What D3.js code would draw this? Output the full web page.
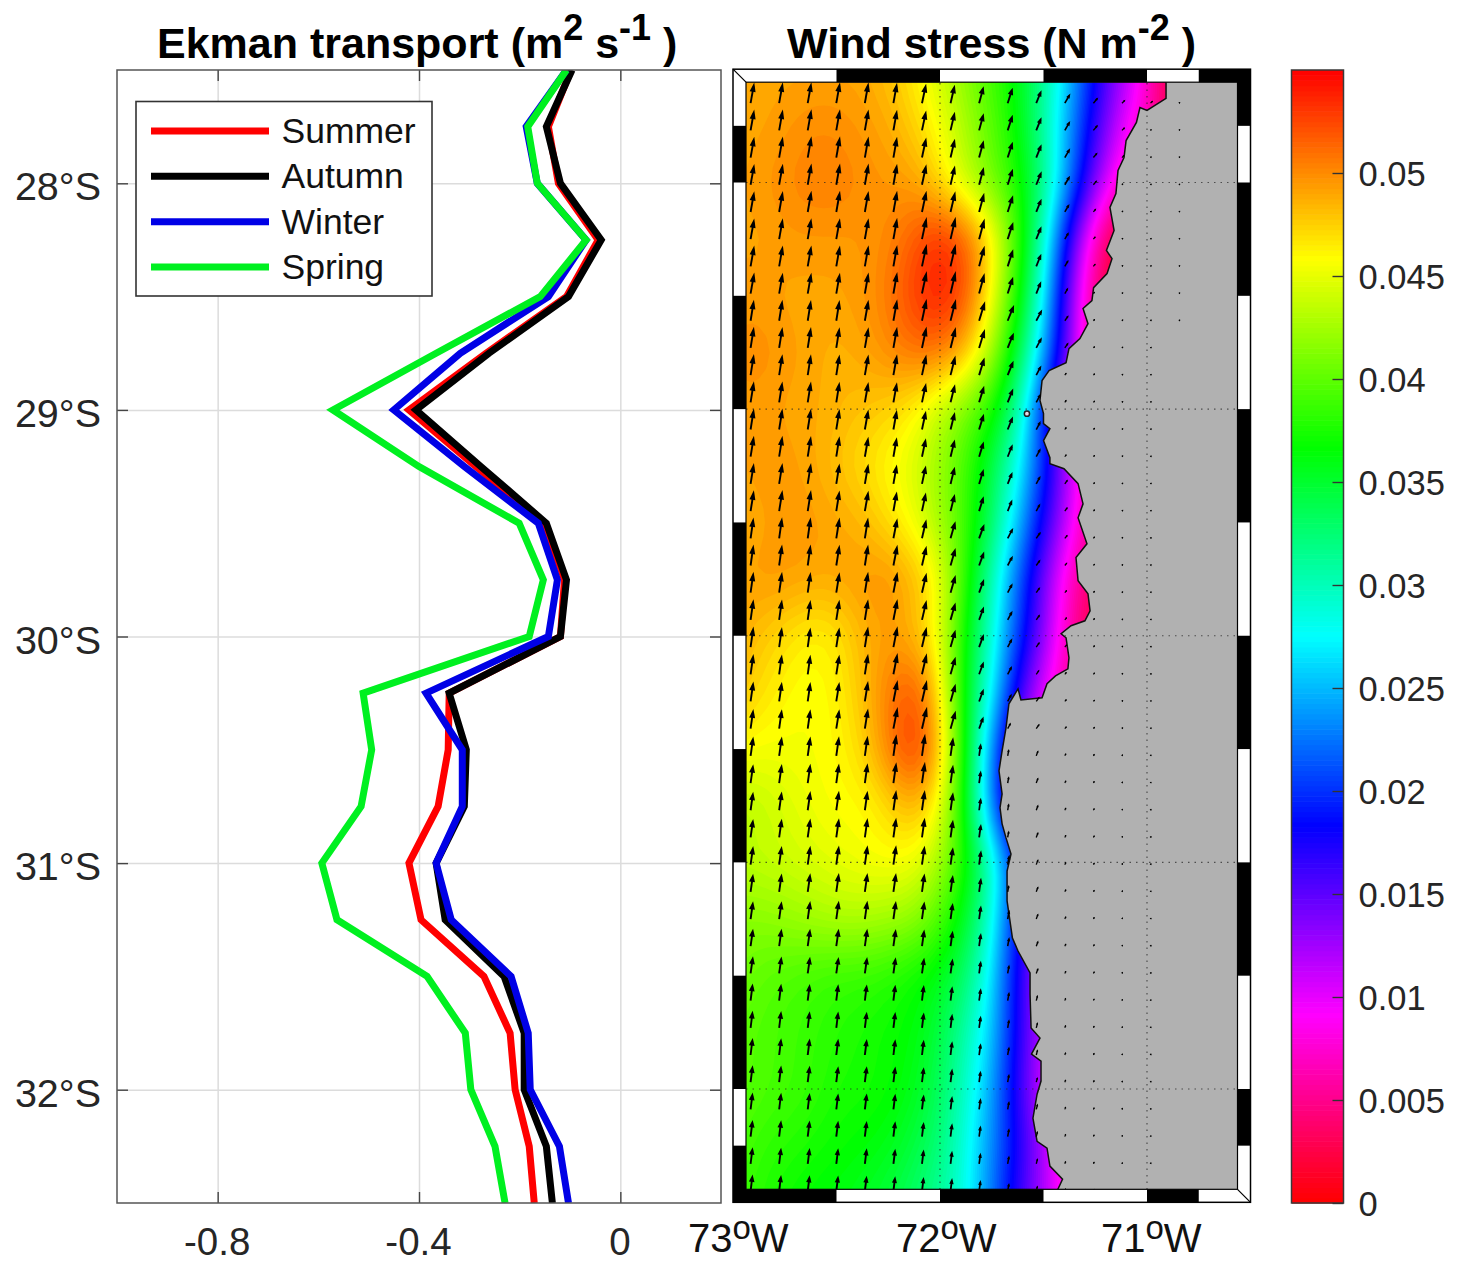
<!DOCTYPE html>
<html><head><meta charset="utf-8">
<script src="https://cdn.jsdelivr.net/npm/d3@7"></script>
<style>
html,body{margin:0;padding:0;background:#fff}
svg{display:block}
text{font-family:"Liberation Sans",Arial,sans-serif}
</style></head><body><svg id="c" width="1460" height="1274"></svg>
<script>
// ---------- Ekman transport panel ----------
const latitudes = [27.5,27.75,28,28.25,28.5,28.75,29,29.25,29.5,29.75,30,30.25,30.5,30.75,31,31.25,31.5,31.75,32,32.25,32.5];
const summer = [-.098,-.143,-.123,-.044,-.107,-.267,-.42,-.287,-.151,-.111,-.119,-.34,-.342,-.362,-.42,-.396,-.271,-.219,-.209,-.181,-.171];
const autumn = [-.096,-.147,-.119,-.038,-.103,-.261,-.406,-.277,-.147,-.107,-.119,-.34,-.306,-.31,-.366,-.348,-.231,-.191,-.191,-.147,-.135];
const winter = [-.107,-.187,-.165,-.068,-.143,-.318,-.45,-.31,-.163,-.125,-.143,-.386,-.314,-.314,-.366,-.336,-.217,-.183,-.179,-.121,-.103];
const spring = [-.107,-.184,-.165,-.068,-.159,-.366,-.571,-.4,-.201,-.153,-.181,-.511,-.494,-.515,-.593,-.563,-.384,-.308,-.297,-.249,-.229];
const seasonNames = ["Summer","Autumn","Winter","Spring"];
const seasonColors = ["#ff0000","#000000","#0000e6","#00f020"];
const xTicks = [-0.8,-0.4,0];
const xTickLabels = ["-0.8","-0.4","0"];
const latTicks = [28,29,30,31,32];
const latTickLabels = ["28°S","29°S","30°S","31°S","32°S"];

// ---------- Wind stress panel ----------
const fieldLons = [-73,-72.875,-72.75,-72.625,-72.5,-72.375,-72.25,-72.125,-72,-71.875,-71.75,-71.625,-71.5,-71.375,-71.25,-71.125,-71,-70.875];
const fieldLats = latitudes;
const stressRows = [
[.049,.049,.049,.049,.049,.049,.048,.0465,.044,.0414,.0389,.0363,.0314,.0257,.018,.0129,.008,.001],
[.049,.049,.0495,.05,.05,.0495,.049,.0475,.0456,.0427,.0398,.0368,.0309,.024,.0164,.0104,.0066,.002],
[.049,.0495,.05,.0505,.0505,.05,.0495,.0495,.047,.0438,.0408,.0378,.0322,.0231,.0134,.007,.004,0],
[.049,.049,.0495,.0495,.0495,.0495,.05,.0518,.054,.052,.047,.039,.0299,.0165,.006,0,0,0],
[.0495,.0495,.049,.049,.049,.0495,.0505,.053,.0545,.0525,.046,.0378,.0279,.0133,.004,0,0,0],
[.0495,.05,.0495,.049,.0485,.049,.05,.051,.051,.0485,.0429,.035,.0248,.013,.004,0,0,0],
[.0495,.0495,.049,.049,.0485,.048,.0475,.0463,.0436,.0408,.038,.0313,.0189,.01,.004,0,0,0],
[.049,.0495,.0495,.049,.048,.047,.0459,.0445,.042,.039,.0345,.0282,.0197,.0116,.005,0,0,0],
[.0485,.049,.0495,.0495,.049,.0485,.047,.0455,.0425,.039,.0333,.0253,.0175,.0103,.004,0,0,0],
[.049,.0495,.0495,.049,.049,.0495,.05,.0485,.046,.038,.0303,.0218,.0142,.0068,.003,0,0,0],
[.049,.048,.047,.046,.0465,.0485,.0495,.0485,.0455,.0365,.029,.0205,.0134,.0058,.002,0,0,0],
[.0485,.047,.046,.0455,.046,.048,.0505,.0528,.0475,.0355,.0278,.0166,.01,.005,.002,0,0,0],
[.046,.0455,.0455,.0455,.046,.047,.0505,.054,.049,.0365,.023,.012,.008,.004,.001,0,0,0],
[.043,.0435,.0445,.0453,.0458,.0458,.047,.049,.046,.0365,.022,.012,.008,.004,.001,0,0,0],
[.0435,.0437,.044,.0445,.045,.0455,.0458,.0455,.043,.0375,.03,.019,.012,.006,.002,0,0,0],
[.0415,.0415,.042,.0425,.043,.043,.0425,.042,.0395,.0355,.0288,.018,.012,.006,.002,0,0,0],
[.041,.04,.0395,.039,.0385,.0385,.038,.037,.036,.033,.027,.017,.0115,.006,.002,0,0,0],
[.04,.0395,.039,.0385,.038,.0375,.037,.0365,.0345,.0305,.026,.017,.0115,.007,.002,0,0,0],
[.04,.0395,.039,.0385,.0375,.0375,.037,.036,.0335,.0295,.0245,.0165,.0105,.007,.002,0,0,0],
[.0395,.0385,.038,.0375,.037,.0365,.036,.0345,.0325,.0285,.0235,.0175,.0125,.0065,.002,0,0,0],
[.039,.038,.037,.0365,.036,.0355,.0345,.033,.031,.0285,.0225,.0165,.012,.0075,.003,0,0,0]
];
const coastLon = [-70.908,-70.908,-71.0,-71.034,-71.051,-71.101,-71.111,-71.14,-71.15,-71.179,-71.159,-71.196,-71.169,-71.193,-71.258,-71.266,-71.309,-71.285,-71.324,-71.377,-71.391,-71.473,-71.507,-71.517,-71.5,-71.5,-71.469,-71.5,-71.469,-71.469,-71.401,-71.333,-71.309,-71.333,-71.29,-71.343,-71.333,-71.285,-71.275,-71.3,-71.367,-71.415,-71.391,-71.377,-71.382,-71.442,-71.483,-71.507,-71.609,-71.623,-71.667,-71.681,-71.7,-71.715,-71.7,-71.71,-71.7,-71.681,-71.657,-71.676,-71.676,-71.65,-71.623,-71.565,-71.565,-71.56,-71.517,-71.558,-71.512,-71.512,-71.531,-71.551,-71.531,-71.483,-71.469,-71.408,-71.435];
const coastLat = [27.558,27.629,27.682,27.669,27.735,27.815,27.89,27.947,28.049,28.11,28.212,28.3,28.336,28.402,28.464,28.521,28.556,28.623,28.689,28.733,28.795,28.83,28.874,28.962,29.02,29.064,29.086,29.139,29.214,29.241,29.263,29.329,29.418,29.479,29.594,29.655,29.757,29.815,29.89,29.934,29.956,29.991,30.009,30.097,30.146,30.177,30.212,30.274,30.283,30.234,30.3,30.406,30.508,30.596,30.698,30.759,30.83,30.892,30.963,31.038,31.17,31.334,31.391,31.488,31.581,31.731,31.775,31.846,31.877,31.965,32.023,32.129,32.231,32.261,32.34,32.398,32.451];
const windBandLats = [28,29,30,31,32];
const windDirBands = [
[10,10,10,10,10,10,12,13,15,18,22,30,40,45,45,45],
[9,9,9,9,10,10,12,14,17,22,28,35,45,45,45,45],
[8,8,8,9,9,11,13,16,20,28,35,40,40,40,40,40],
[8,8,8,8,8,8,8,8,8,10,20,25,30,30,30,30],
[7,7,7,7,7,7,7,7,8,10,15,20,25,25,25,25]
];
const landMarkLength = [7,7,7,7,7,7,7,7,7,7,6,3,2.4,1.8,1.6,1.6];
const mapLonTicks = [-73,-72,-71];
const mapLonLabels = ["73","72","71"];
const gridLons = [-72,-71];
const topBandEdges = [-73,-72.5,-72,-71.5,-71,-70.75,-70.5];
const sideBandEdges = [27.5,27.75,28,28.5,29,29.5,30,30.5,31,31.5,32,32.25,32.5];
const barTicks = [0,.005,.01,.015,.02,.025,.03,.035,.04,.045,.05];
const barTickLabels = ["0","0.005","0.01","0.015","0.02","0.025","0.03","0.035","0.04","0.045","0.05"];

const svg = d3.select("#c");
const defs = svg.append("defs");
const INK = "#262626";

function superText(sel, parts){
  let pending = 0;
  parts.forEach(p=>{
    const dy = (p.sup ? -p.rise : 0) + pending;
    const ts = sel.append("tspan").attr("dy",dy).text(p.sup||p.t);
    if(p.sup){ ts.attr("font-size",p.size); pending = p.rise; } else pending = 0;
  });
}

// ---- left panel ----
const xS = d3.scaleLinear([-1,0.2],[117,721]);
const yS = d3.scaleLinear([27.5,32.5],[70,1203]);
defs.append("clipPath").attr("id","lp").append("rect").attr("x",117).attr("y",70).attr("width",604).attr("height",1133);
const L = svg.append("g");

function cleanAxis(g){ g.select(".domain").remove(); }
L.append("g").attr("transform","translate(0,1203)")
  .call(d3.axisBottom(xS).tickValues(xTicks).tickSize(-1133).tickFormat(""))
  .call(cleanAxis).selectAll("line").attr("stroke","#dcdcdc").attr("stroke-width",1.5);
L.append("g").attr("transform","translate(117,0)")
  .call(d3.axisLeft(yS).tickValues(latTicks).tickSize(-604).tickFormat(""))
  .call(cleanAxis).selectAll("line").attr("stroke","#dcdcdc").attr("stroke-width",1.5);

const lineGen = d3.line().x(d=>xS(d[0])).y(d=>yS(d[1]));
[summer,autumn,winter,spring].forEach((s,i)=>{
  L.append("path").attr("clip-path","url(#lp)")
    .datum(s.map((v,k)=>[v,latitudes[k]]))
    .attr("d",lineGen).attr("fill","none").attr("stroke",seasonColors[i])
    .attr("stroke-width",7).attr("stroke-linejoin","miter");
});
const axisStyle = g=>{ g.call(cleanAxis); g.selectAll("line").attr("stroke","#444").attr("stroke-width",1.4); };
L.append("g").attr("transform","translate(0,1203)")
  .call(d3.axisBottom(xS).tickValues(xTicks).tickSizeInner(-11).tickPadding(25).tickFormat((d,i)=>xTickLabels[i]))
  .call(axisStyle).selectAll("text").attr("font-size",38.5).attr("fill",INK).attr("font-family","Liberation Sans").attr("dx",-1);
L.append("g").attr("transform","translate(0,70)")
  .call(d3.axisTop(xS).tickValues(xTicks).tickSizeInner(-11).tickFormat(""))
  .call(axisStyle);
L.append("g").attr("transform","translate(117,0)")
  .call(d3.axisLeft(yS).tickValues(latTicks).tickSizeInner(-11).tickPadding(16).tickFormat((d,i)=>latTickLabels[i]))
  .call(axisStyle).selectAll("text").attr("font-size",39.5).attr("fill",INK).attr("font-family","Liberation Sans").attr("dy","0.42em");
L.append("g").attr("transform","translate(721,0)")
  .call(d3.axisRight(yS).tickValues(latTicks).tickSizeInner(-11).tickFormat(""))
  .call(axisStyle);
L.append("rect").attr("x",117).attr("y",70).attr("width",604).attr("height",1133).attr("fill","none").attr("stroke","#555").attr("stroke-width",1.5);

// legend
const lg = L.append("g");
lg.append("rect").attr("x",136).attr("y",101.5).attr("width",296).attr("height",194.5).attr("fill","#fff").attr("stroke","#333").attr("stroke-width",1.6);
const legendY = d3.scalePoint(seasonNames,[131,267]);
seasonNames.forEach((n,i)=>{
  lg.append("line").attr("x1",151).attr("x2",269).attr("y1",legendY(n)).attr("y2",legendY(n)).attr("stroke",seasonColors[i]).attr("stroke-width",7);
  lg.append("text").attr("x",281.5).attr("y",legendY(n)+12).attr("font-size",35.5).attr("fill","#111").text(n);
});

// titles
const t1 = svg.append("text").attr("x",157).attr("y",58).attr("font-size",43).attr("font-weight","bold").attr("fill","#000");
superText(t1,[{t:"Ekman transport (m"},{sup:"2",rise:18,size:36},{t:" s"},{sup:"-1",rise:18,size:36},{t:" )"}]);
const t2 = svg.append("text").attr("x",787).attr("y",58).attr("font-size",43).attr("font-weight","bold").attr("fill","#000");
superText(t2,[{t:"Wind stress (N m"},{sup:"-2",rise:18,size:36},{t:" )"}]);

// ---- map ----
const lonS = d3.scaleLinear([-72,-71],[940,1147]);
const latS = d3.scaleLinear([28,32],[182.5,1089]);
const hue = d3.scaleLinear([0,0.055],[360,0]);
const stressColor = v=>d3.hsl(hue(v),1,.5).formatHex();

defs.append("clipPath").attr("id","mp").append("rect").attr("x",746).attr("y",82).attr("width",492.5).attr("height",1108);
const M = svg.append("g").attr("clip-path","url(#mp)");

const nx = fieldLons.length, ny = fieldLats.length;
const colS = d3.scaleLinear([0,nx-1],[fieldLons[0],fieldLons[nx-1]]);
const rowS = d3.scaleLinear([0,ny-1],[fieldLats[0],fieldLats[ny-1]]);
function stressAt(lon,lat){
  const cx = Math.max(0,Math.min(nx-1.001,colS.invert(lon))), cy = Math.max(0,Math.min(ny-1.001,rowS.invert(lat)));
  const i=Math.floor(cx), j=Math.floor(cy), fx=cx-i, fy=cy-j;
  const a=stressRows[j][i],b=stressRows[j][i+1],c=stressRows[j+1][i],e=stressRows[j+1][i+1];
  return (a*(1-fx)+b*fx)*(1-fy)+(c*(1-fx)+e*fx)*fy;
}
// resample the read grid finely for a smooth shaded surface
const sub = 4, ux = (nx-1)*sub+1, uy = (ny-1)*sub+1;
const uCol = d3.scaleLinear([0,ux-1],[fieldLons[0],fieldLons[nx-1]]);
const uRow = d3.scaleLinear([0,uy-1],[fieldLats[0],fieldLats[ny-1]]);
const fine = new Float64Array(ux*uy);
for(let j=0;j<uy;j++) for(let i=0;i<ux;i++) fine[j*ux+i]=stressAt(uCol(i),uRow(j));
d3.blur2({data:fine,width:ux,height:uy},1.5,1);
const gridProj = d3.geoTransform({point(x,y){ this.stream.point(lonS(uCol(x-.5)),latS(uRow(y-.5))); }});
const gridPath = d3.geoPath(gridProj);
const levels = d3.range(0,0.0552,0.0004);
const contours = d3.contours().size([ux,uy]).smooth(true).thresholds(levels)(fine);
M.selectAll("path.band").data(contours).join("path").attr("class","band")
  .attr("d",gridPath).attr("fill",d=>stressColor(d.value+0.0002));

// land
const coastPts = coastLon.map((v,i)=>[lonS(v),latS(coastLat[i])]);
const landPts = coastPts.concat([[lonS(-71.435),latS(32.6)],[lonS(-70.4),latS(32.6)],[lonS(-70.4),latS(27.4)],[lonS(-70.908),latS(27.4)]]);
M.append("path").attr("d",d3.line()(landPts)+"Z").attr("fill","#b1b1b1");
M.append("path").attr("d",d3.line()(coastPts)).attr("fill","none").attr("stroke","#111").attr("stroke-width",1.5);
M.append("circle").attr("cx",lonS(-71.58)).attr("cy",latS(29.02)).attr("r",2.6).attr("fill","#e8d8e8").attr("stroke","#222").attr("stroke-width",1.5);

// dotted graticule
gridLons.forEach(l=>M.append("line").attr("x1",lonS(l)).attr("x2",lonS(l)).attr("y1",70).attr("y2",1203).attr("stroke","#222").attr("stroke-opacity",.7).attr("stroke-width",1.2).attr("stroke-dasharray","1.5 5"));
latTicks.forEach(l=>M.append("line").attr("y1",latS(l)).attr("y2",latS(l)).attr("x1",733).attr("x2",1251).attr("stroke","#222").attr("stroke-opacity",.7).attr("stroke-width",1.2).attr("stroke-dasharray","1.5 5"));

// wind vectors: magnitude follows the stress field, direction read per band
const arrowCols = d3.range(16), arrowRows = d3.range(41);
const arrows = svg.append("g").attr("clip-path","url(#mp)");
const landPoly = landPts;
arrowRows.forEach(r=>arrowCols.forEach(c=>{
  const lon=-72.915+c*0.138, lat=27.65+r*0.12;
  const x=lonS(lon), y=latS(lat);
  const onLand=d3.polygonContains(landPoly,[x,y]);
  if(c===15 && r>8) return;
  const len=onLand?landMarkLength[c]:Math.max(3.5,stressAt(lon,lat)*430);
  const ang=windDirBands[d3.bisectCenter(windBandLats,lat)][c]*Math.PI/180;
  const dx=Math.sin(ang),dy=-Math.cos(ang),px=-dy,py=dx;
  const tx=x+dx*len,ty=y+dy*len;
  arrows.append("line").attr("x1",x).attr("y1",y).attr("x2",tx-dx*len*.2).attr("y2",ty-dy*len*.2).attr("stroke","#000").attr("stroke-width",Math.min(1.9,1+len*.06));
  const hl=Math.max(1.6,len*.45), hw=Math.min(3,Math.max(1,len*.17));
  const bx=tx-dx*hl,by=ty-dy*hl;
  arrows.append("path").attr("d",d3.line()([[tx,ty],[bx+px*hw,by+py*hw],[bx-px*hw,by-py*hw]])+"Z").attr("fill","#000");
}));

// fancy frame
const F = svg.append("g");
const fx0=lonS(-73),fx1=lonS(-70.5),fy0=latS(27.5),fy1=latS(32.5),bw=13;
F.append("rect").attr("x",fx0).attr("y",fy0).attr("width",fx1-fx0).attr("height",bw).attr("fill","#fff");
F.append("rect").attr("x",fx0).attr("y",fy1-bw).attr("width",fx1-fx0).attr("height",bw).attr("fill","#fff");
F.append("rect").attr("x",fx0).attr("y",fy0).attr("width",bw).attr("height",fy1-fy0).attr("fill","#fff");
F.append("rect").attr("x",fx1-bw).attr("y",fy0).attr("width",bw).attr("height",fy1-fy0).attr("fill","#fff");
d3.pairs(topBandEdges).forEach((p,i)=>{
  const x=lonS(p[0]),w=lonS(p[1])-x;
  if(i%2===1) F.append("rect").attr("x",x).attr("y",fy0).attr("width",w).attr("height",bw).attr("fill","#000");
  if(i%2===0) F.append("rect").attr("x",x).attr("y",fy1-bw).attr("width",w).attr("height",bw).attr("fill","#000");
});
d3.pairs(sideBandEdges).forEach((p,i)=>{
  const y=latS(p[0]),h=latS(p[1])-y;
  if(i%2===1) F.append("rect").attr("x",fx0).attr("y",y).attr("width",bw).attr("height",h).attr("fill","#000");
  if(i%2===0) F.append("rect").attr("x",fx1-bw).attr("y",y).attr("width",bw).attr("height",h).attr("fill","#000");
});
F.append("rect").attr("x",fx0).attr("y",fy0).attr("width",fx1-fx0).attr("height",fy1-fy0).attr("fill","none").attr("stroke","#000").attr("stroke-width",1.5);
F.append("rect").attr("x",fx0+bw).attr("y",fy0+bw).attr("width",fx1-fx0-2*bw).attr("height",fy1-fy0-2*bw).attr("fill","none").attr("stroke","#000").attr("stroke-width",1.2);
F.append("line").attr("x1",fx0).attr("y1",fy0).attr("x2",fx0+bw).attr("y2",fy0+bw).attr("stroke","#000").attr("stroke-width",1.2);
F.append("line").attr("x1",fx1).attr("y1",fy1).attr("x2",fx1-bw).attr("y2",fy1-bw).attr("stroke","#000").attr("stroke-width",1.2);

mapLonTicks.forEach((l,i)=>{
  const t=svg.append("text").attr("x",lonS(l)+(i===0?-45:i===1?-44:-46)).attr("y",1252).attr("font-size",40).attr("fill","#111");
  t.append("tspan").text(mapLonLabels[i]);
  t.append("tspan").attr("dy",-13).attr("font-size",33).text("o");
  t.append("tspan").attr("dy",13).text("W");
});

// ---- colour bar ----
const barS = d3.scaleLinear([0,0.055],[1203,70]);
const B = svg.append("g");
d3.range(0,0.055,0.00025).forEach(v=>{
  B.append("rect").attr("x",1292).attr("width",51).attr("y",barS(v+0.00025)).attr("height",barS(v)-barS(v+0.00025)+.6).attr("fill",stressColor(v+0.000125));
});
B.append("rect").attr("x",1291.5).attr("y",70).attr("width",52).attr("height",1133).attr("fill","none").attr("stroke","#3a3a3a").attr("stroke-width",1.5);
B.append("g").attr("transform","translate(1343.5,0)")
  .call(d3.axisRight(barS).tickValues(barTicks).tickSizeInner(-11).tickPadding(15).tickFormat((d,i)=>barTickLabels[i]))
  .call(g=>g.select(".domain").remove())
  .call(g=>g.selectAll("line").attr("stroke","#333").attr("stroke-width",1.4))
  .selectAll("text").attr("font-size",34.5).attr("fill",INK).attr("font-family","Liberation Sans").attr("dy","0.36em");
</script></body></html>
